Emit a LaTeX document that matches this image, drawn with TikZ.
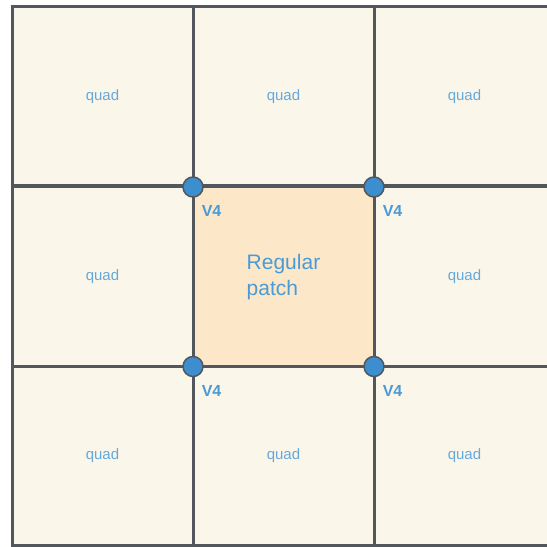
\documentclass[tikz,border=0pt]{standalone}
\usepackage{fontspec}
\setmainfont{Liberation Sans}
\usetikzlibrary{positioning}
\definecolor{cellfill}{HTML}{FBF6EA}
\definecolor{patchfill}{HTML}{FCE8C9}
\definecolor{gridline}{HTML}{52575D}
\definecolor{vtxblue}{HTML}{3C8ECF}
\definecolor{txtblue}{HTML}{4A9AD6}
\tikzset{quadcell/.style={draw=gridline, line width=3pt, fill=cellfill, minimum width=181pt, minimum height=179.5pt, inner sep=0pt, outer sep=0pt, text=txtblue!85, font=\fontsize{15}{17}\selectfont},
  regpatch/.style={quadcell, fill=patchfill, align=left, text=txtblue, font=\fontsize{21}{26}\selectfont},
  vtx/.style={circle, draw=gridline, line width=1.5pt, fill=vtxblue, minimum size=20pt, inner sep=0pt},
  vlabel/.style={inner sep=0pt, text=txtblue, font=\fontsize{16}{16}\selectfont\bfseries}}

\begin{document}
\begin{tikzpicture}[x=1pt, y=1pt]
  \useasboundingbox (0,0) rectangle (547,547);
  \clip (0,0) rectangle (547,547);
  \node[quadcell] (tl) at (102.5,450.75) {quad};
  \node[quadcell] (tm) at (283.5,450.75) {quad};
  \node[quadcell] (tr) at (464.5,450.75) {quad};
  \node[quadcell] (ml) at (102.5,270.25) {quad};
  \node[quadcell] (mr) at (464.5,270.25) {quad};
  \node[quadcell] (bl) at (102.5,91) {quad};
  \node[quadcell] (bm) at (283.5,91) {quad};
  \node[quadcell] (br) at (464.5,91) {quad};
  \node[regpatch] (mid) at (283.5,270.25) {Regular\\patch};
  \node[vtx] (vnw) at (mid.north west) {};
  \node[vtx] (vne) at (mid.north east) {};
  \node[vtx] (vsw) at (mid.south west) {};
  \node[vtx] (vse) at (mid.south east) {};
  \node[vlabel, below right=11pt and 1pt of vnw] (lnw) {V4};
  \node[vlabel, below right=11pt and 1pt of vne] (lne) {V4};
  \node[vlabel, below right=11pt and 1pt of vsw] (lsw) {V4};
  \node[vlabel, below right=11pt and 1pt of vse] (lse) {V4};
\end{tikzpicture}
\end{document}
